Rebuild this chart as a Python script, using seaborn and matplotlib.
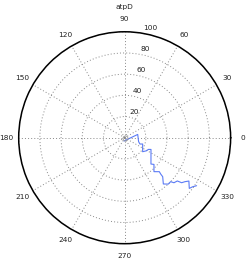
import numpy as np
import pandas as pd
import matplotlib
matplotlib.use("Agg")
import matplotlib.pyplot as plt
import matplotlib.transforms as mtransforms
import seaborn as sns

title = "atpD"
theta_deg = [258.0, 14.2, 344.1, 337.6, 340.7, 322.1, 329.4, 333.7, 336.0, 315.0,
             317.7, 310.8, 315.6, 314.8, 314.3, 309.9, 313.3, 316.3, 317.6, 320.6,
             321.7, 323.9, 326.0, 321.9, 324.2, 326.3]
radius = [3.2, 12.7, 13.7, 15.6, 18.0, 21.5, 24.1, 24.9, 27.2, 35.1,
          37.4, 42.3, 45.8, 48.2, 51.4, 56.9, 60.1, 60.0, 63.0, 64.3,
          68.5, 70.4, 73.1, 77.5, 79.1, 81.6]
r_ticks = [20, 40, 60, 80, 100]
theta_ticks = [0, 30, 60, 90, 120, 150, 180, 210, 240, 270, 300, 330]

sns.set_style("white")
plt.rcParams["font.family"] = ["DejaVu Sans"]

df = pd.DataFrame({"theta": np.deg2rad(theta_deg), "r": radius, "step": range(len(radius))})

fig = plt.figure(figsize=(2.47, 2.61), dpi=100)
ax = fig.add_axes([0.0757, 0.0663, 0.858, 0.812], projection="polar")

sns.lineplot(data=df, x="theta", y="r", sort=False, ax=ax, color="#5b7bf5",
             linewidth=0.8, estimator=None)
ax.plot([0], [0], marker="o", markersize=3.6, markerfacecolor="none",
        markeredgecolor="#999999", markeredgewidth=0.6, linestyle="none")

ax.set_ylim(0, 100)
ax.set_yticks(r_ticks)
ax.set_yticklabels([str(t) for t in r_ticks], fontsize=5.3, color="#222222")
ax.set_rlabel_position(80.5)
shift = mtransforms.ScaledTranslation(1.5 / 100, 2.0 / 100, fig.dpi_scale_trans)
for lab in ax.get_yticklabels():
    lab.set_transform(lab.get_transform() + shift)
ax.set_xticks(np.deg2rad(theta_ticks))
ax.set_xticklabels([str(t) for t in theta_ticks], fontsize=5.3, color="#222222")
ax.tick_params(axis="x", length=0, pad=2)
ax.grid(True, linestyle=(0, (1, 2.2)), color="#888888", linewidth=0.7)
ax.spines["polar"].set_color("black")
ax.spines["polar"].set_linewidth(1.1)
ax.set_xlabel("")
ax.set_ylabel("")
fig.text(124.7 / 247, 1 - 7.3 / 261, title, fontsize=5.3, ha="center", va="center",
         color="#222222")

fig.savefig("out.png", dpi=100)
